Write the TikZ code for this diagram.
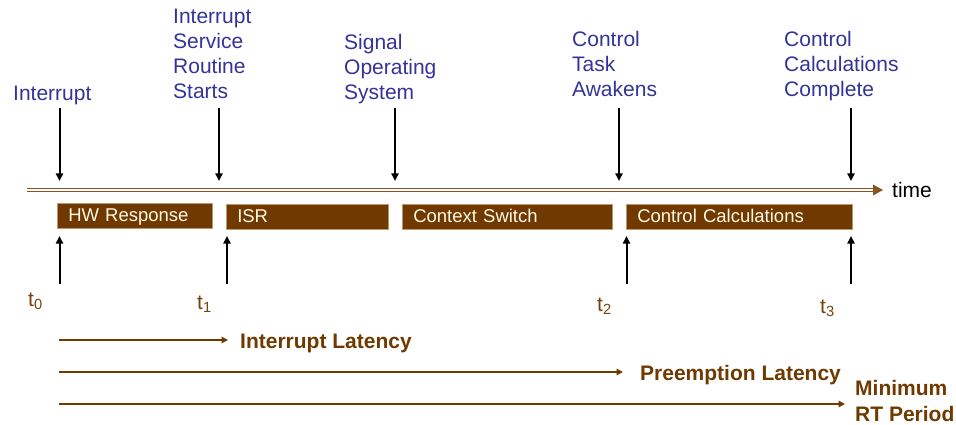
\documentclass[tikz,border=0pt]{standalone}
\usepackage{fontspec}
\setmainfont{Liberation Sans}
\usetikzlibrary{arrows.meta}
\definecolor{lblue}{RGB}{51,51,153}
\definecolor{boxbrown}{RGB}{111,57,0}
\definecolor{boxedge}{RGB}{190,150,110}
\definecolor{tlbrown}{RGB}{135,85,35}
\definecolor{boxtext}{RGB}{255,250,232}
\definecolor{tbrown}{RGB}{120,65,10}
\tikzset{
  toplabel/.style={anchor=north west, inner sep=0pt, align=left, text=lblue,
    font=\fontsize{21}{25}\selectfont},
  phasebox/.style={anchor=north west, fill=boxbrown, draw=boxedge, line width=0.5pt,
    minimum height=25pt, inner xsep=11pt, inner ysep=0pt, text=boxtext, align=left,
    text height=15pt, text depth=3.5pt,
    font=\fontsize{18.5}{20}\selectfont},
  evarrow/.style={-{Triangle[length=7.5pt,width=7pt]}, line width=2pt, black},
  tlabel/.style={anchor=base west, inner sep=0pt, text=tbrown, font=\fontsize{21}{24}\selectfont},
  latarrow/.style={-{Triangle[length=6.5pt,width=6.5pt]}, line width=2pt, boxbrown},
  latlabel/.style={anchor=base west, inner sep=0pt, text=boxbrown, align=left,
    font=\bfseries\fontsize{21}{26}\selectfont},
}
\begin{document}
\begin{tikzpicture}[x=1pt,y=-1pt]
\useasboundingbox (0,0) rectangle (956,425);
% top labels
\node[toplabel] (lInt) at (13,86) {Interrupt};
\node[toplabel] (lISR) at (173,9) {Interrupt\\Service\\Routine\\Starts};
\node[toplabel] (lSig) at (344,34) {Signal\\Operating\\System};
\node[toplabel] (lTask) at (572,31) {Control\\Task\\Awakens};
\node[toplabel] (lCalc) at (784,31) {Control\\Calculations\\Complete};
% timeline
\coordinate (tlS) at (27,190);
\coordinate (tlE) at (875,190);
\coordinate (tlTip) at (883,190);
\draw[tlbrown, line width=1.3pt, double=white, double distance=2.1pt] (tlS) -- (tlE);
\fill[tlbrown] (873,184.5) -- (tlTip) -- (873,195.5) -- cycle;
\node[anchor=base west, inner sep=0pt, font=\fontsize{21}{24}\selectfont] (time) at (892,197) {time};
% down arrows
\foreach \n/\x in {a/59.5,b/219,c/395,d/619,e/851}{
  \coordinate (dt\n) at (\x,108);
  \coordinate (db\n) at (\x,181);
  \draw[evarrow] (dt\n) -- (db\n);
}
% boxes
\node[phasebox, minimum width=155pt, text width=133pt] (hw) at (57,203) {HW Response};
\node[phasebox, minimum width=162pt, text width=140pt] (isr) at (226,203.5) {ISR};
\node[phasebox, minimum width=210pt, text width=188pt] (cs) at (402,203.5) {Context Switch};
\node[phasebox, minimum width=226pt, text width=204pt] (cc) at (626,203.5) {Control Calculations};
% up arrows
\foreach \n/\x in {a/59.5,b/227,c/626.5,d/851}{
  \coordinate (ub\n) at (\x,284);
  \coordinate (ut\n) at (\x,236);
  \draw[evarrow] (ub\n) -- (ut\n);
}
% t labels
\node[tlabel] (t0) at (28,306) {t\textsubscript{0}};
\node[tlabel] (t1) at (197,309) {t\textsubscript{1}};
\node[tlabel] (t2) at (597,311) {t\textsubscript{2}};
\node[tlabel] (t3) at (820,313) {t\textsubscript{3}};
% latency arrows
\coordinate (la0) at (59,340);
\coordinate (la1) at (228,340);
\draw[latarrow] (la0) -- (la1);
\node[latlabel] (lat1) at (240,348) {Interrupt Latency};
\coordinate (lb0) at (59,372);
\coordinate (lb1) at (623,372);
\draw[latarrow] (lb0) -- (lb1);
\node[latlabel] (lat2) at (640,380) {Preemption Latency};
\coordinate (lc0) at (59,404);
\coordinate (lc1) at (845,404);
\draw[latarrow] (lc0) -- (lc1);
\node[latlabel, anchor=north west] (lat3) at (855,380.5) {Minimum\\RT Period};
\end{tikzpicture}
\end{document}
